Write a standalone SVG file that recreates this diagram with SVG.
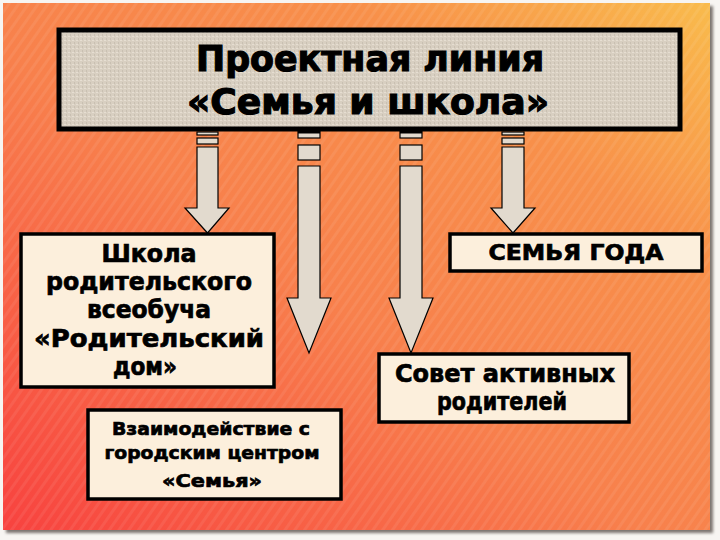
<svg xmlns="http://www.w3.org/2000/svg" width="720" height="540" viewBox="0 0 720 540">
<defs>
<linearGradient id="bg" x1="0" y1="1" x2="1" y2="0">
<stop offset="0" stop-color="#f8423f"/>
<stop offset="0.45" stop-color="#f8804c"/>
<stop offset="0.75" stop-color="#f8904a"/>
<stop offset="1" stop-color="#f9bb4c"/>
</linearGradient>
<pattern id="streaks" width="8" height="8" patternUnits="userSpaceOnUse" patternTransform="rotate(35)">
<rect width="3" height="8" fill="#ffffff" opacity="0.07"/>
</pattern>
<pattern id="linen" width="4" height="4" patternUnits="userSpaceOnUse">
<rect width="4" height="4" fill="#d8cfc1"/>
<rect width="2" height="1" fill="#e6ded2"/>
<rect x="2" y="2" width="1" height="2" fill="#c9c0b2"/>
</pattern>
<filter id="sh" x="-5%" y="-5%" width="110%" height="110%">
<feGaussianBlur stdDeviation="1.5"/>
</filter>
<style>
.box{fill:#fcefdc;stroke:#000;stroke-width:3.5}
.t{font-family:"DejaVu Sans","Liberation Sans",Arial,sans-serif;font-weight:bold;fill:#000;stroke:#000;stroke-width:0.7;text-anchor:middle}
.title{stroke-width:1.2}
.arrow{fill:#e2dace;stroke:#000;stroke-width:1.2;stroke-linejoin:miter}
.stripe{fill:#e2dace;stroke:#000;stroke-width:1.2}
</style>
</defs>
<rect width="720" height="540" fill="#f7f5f2"/>
<rect x="6" y="6" width="707" height="527" fill="#7a7470" filter="url(#sh)"/>
<rect x="3" y="3" width="707" height="527" fill="url(#bg)"/>
<rect x="3" y="3" width="707" height="527" fill="url(#streaks)"/>

<g id="connectors">
<g id="arrow1">
<rect class="stripe" x="197" y="132" width="21" height="3"/>
<rect class="stripe" x="197" y="138" width="21" height="6"/>
<path class="arrow" d="M197,147 H218 V208 H229 L207.5,233 L185,208 H197 Z"/>
</g>
<g id="arrow2">
<rect class="stripe" x="298" y="131" width="22" height="7"/>
<rect x="298" y="131" width="22" height="2.5" fill="#000"/>
<rect class="stripe" x="298" y="145" width="22" height="15"/>
<path class="arrow" d="M298,166 H320 V298 H331 L309,353 L287,298 H298 Z"/>
</g>
<g id="arrow3">
<rect class="stripe" x="400" y="131" width="22" height="7"/>
<rect x="400" y="131" width="22" height="2.5" fill="#000"/>
<rect class="stripe" x="400" y="145" width="22" height="15"/>
<path class="arrow" d="M400,166 H422 V298 H433 L411,353 L389,298 H400 Z"/>
</g>
<g id="arrow4">
<rect class="stripe" x="502" y="132" width="22" height="3"/>
<rect class="stripe" x="502" y="138" width="22" height="6"/>
<path class="arrow" d="M502,147 H524 V208 H535 L513,233 L491,208 H502 Z"/>
</g>
</g>

<g id="title">
<rect x="59" y="30" width="621" height="99" fill="url(#linen)" stroke="#000" stroke-width="5"/>
<text class="t title" x="370" y="71" font-size="36" textLength="348" lengthAdjust="spacingAndGlyphs">Проектная линия</text>
<text class="t title" x="368" y="114" font-size="36" textLength="362" lengthAdjust="spacingAndGlyphs">«Семья и школа»</text>
</g>

<g id="node-school">
<rect class="box" x="21" y="234" width="253" height="153"/>
<text class="t" x="149" y="262" font-size="24" textLength="95" lengthAdjust="spacingAndGlyphs">Школа</text>
<text class="t" x="149" y="290" font-size="24" textLength="206" lengthAdjust="spacingAndGlyphs">родительского</text>
<text class="t" x="149" y="318" font-size="24" textLength="124" lengthAdjust="spacingAndGlyphs">всеобуча</text>
<text class="t" x="149" y="347" font-size="24" textLength="230" lengthAdjust="spacingAndGlyphs">«Родительский</text>
<text class="t" x="145" y="375" font-size="24" textLength="64" lengthAdjust="spacingAndGlyphs">дом»</text>
</g>

<g id="node-center">
<rect class="box" x="88" y="410" width="253" height="89"/>
<text class="t" x="211" y="435" font-size="18" textLength="198" lengthAdjust="spacingAndGlyphs">Взаимодействие с</text>
<text class="t" x="212" y="459" font-size="18" textLength="215" lengthAdjust="spacingAndGlyphs">городским центром</text>
<text class="t" x="212" y="487" font-size="18" textLength="100" lengthAdjust="spacingAndGlyphs">«Семья»</text>
</g>

<g id="node-family-year">
<rect class="box" x="450" y="234" width="252" height="37"/>
<text class="t" x="576" y="260" font-size="22" textLength="175" lengthAdjust="spacingAndGlyphs">СЕМЬЯ ГОДА</text>
</g>

<g id="node-council">
<rect class="box" x="379" y="354" width="250" height="68"/>
<text class="t" x="505" y="382" font-size="25" textLength="220" lengthAdjust="spacingAndGlyphs">Совет активных</text>
<text class="t" x="502" y="410" font-size="25" textLength="130" lengthAdjust="spacingAndGlyphs">родителей</text>
</g>
</svg>
